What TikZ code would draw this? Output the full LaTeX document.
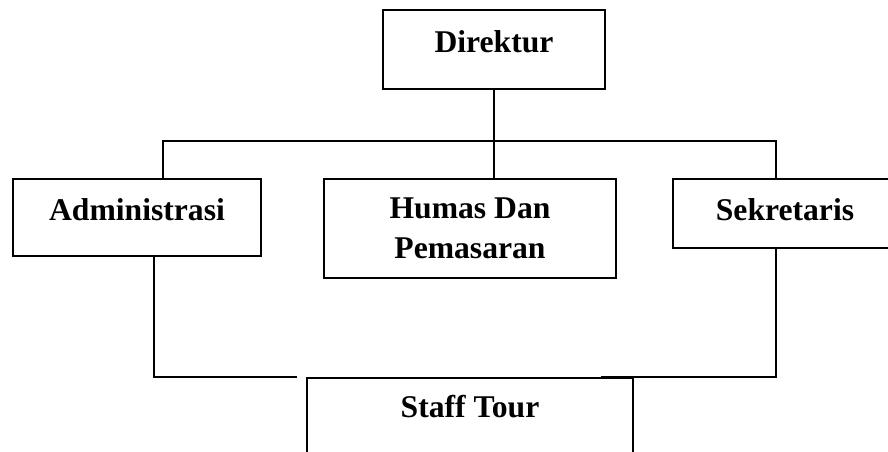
\documentclass[tikz,border=0pt]{standalone}
\usepackage{fontspec}
\setmainfont{Liberation Serif}
\usetikzlibrary{calc,positioning}

\begin{document}
\begin{tikzpicture}[
  box/.style={draw, line width=1.1pt, align=center,
              font=\bfseries\fontsize{18}{22.7}\selectfont},
  one/.style={text height=0.44cm, text depth=#1},
  ln/.style={line width=1.1pt}
]
\useasboundingbox (0,0) rectangle (17.76,9.04);
\clip (0,0) rectangle (17.76,9.04);
\node[box, one=0.32cm, minimum width=4.44cm, minimum height=1.58cm] (dir) at (9.88,8.05) {Direktur};
\node[box, one=0.3cm, minimum width=4.96cm, minimum height=1.54cm] (adm) at (2.74,4.69) {Administrasi};
\node[box, minimum width=5.84cm, minimum height=1.98cm] (hum) at (9.4,4.47) {Humas Dan\\Pemasaran};
\node[box, one=0.14cm, minimum width=4.48cm, minimum height=1.38cm] (sek) at (15.7,4.77) {Sekretaris};
\node[box, one=0.44cm, minimum width=6.52cm, minimum height=1.6cm] (stf) at (9.4,0.68) {Staff Tour};
\draw[ln] (dir.south) -- ++(0,-1.02) coordinate (bus);
\draw[ln] ([xshift=0.52cm]adm.north) |- (bus) -| ([xshift=-0.18cm]sek.north);
\draw[ln] (bus) -- (hum.north -| bus);
\draw[ln] ([xshift=0.34cm]adm.south) |- ([xshift=-0.18cm]stf.north west);
\draw[ln] ([xshift=-0.18cm]sek.south) |- ([xshift=-0.66cm]stf.north east);
\end{tikzpicture}
\end{document}
